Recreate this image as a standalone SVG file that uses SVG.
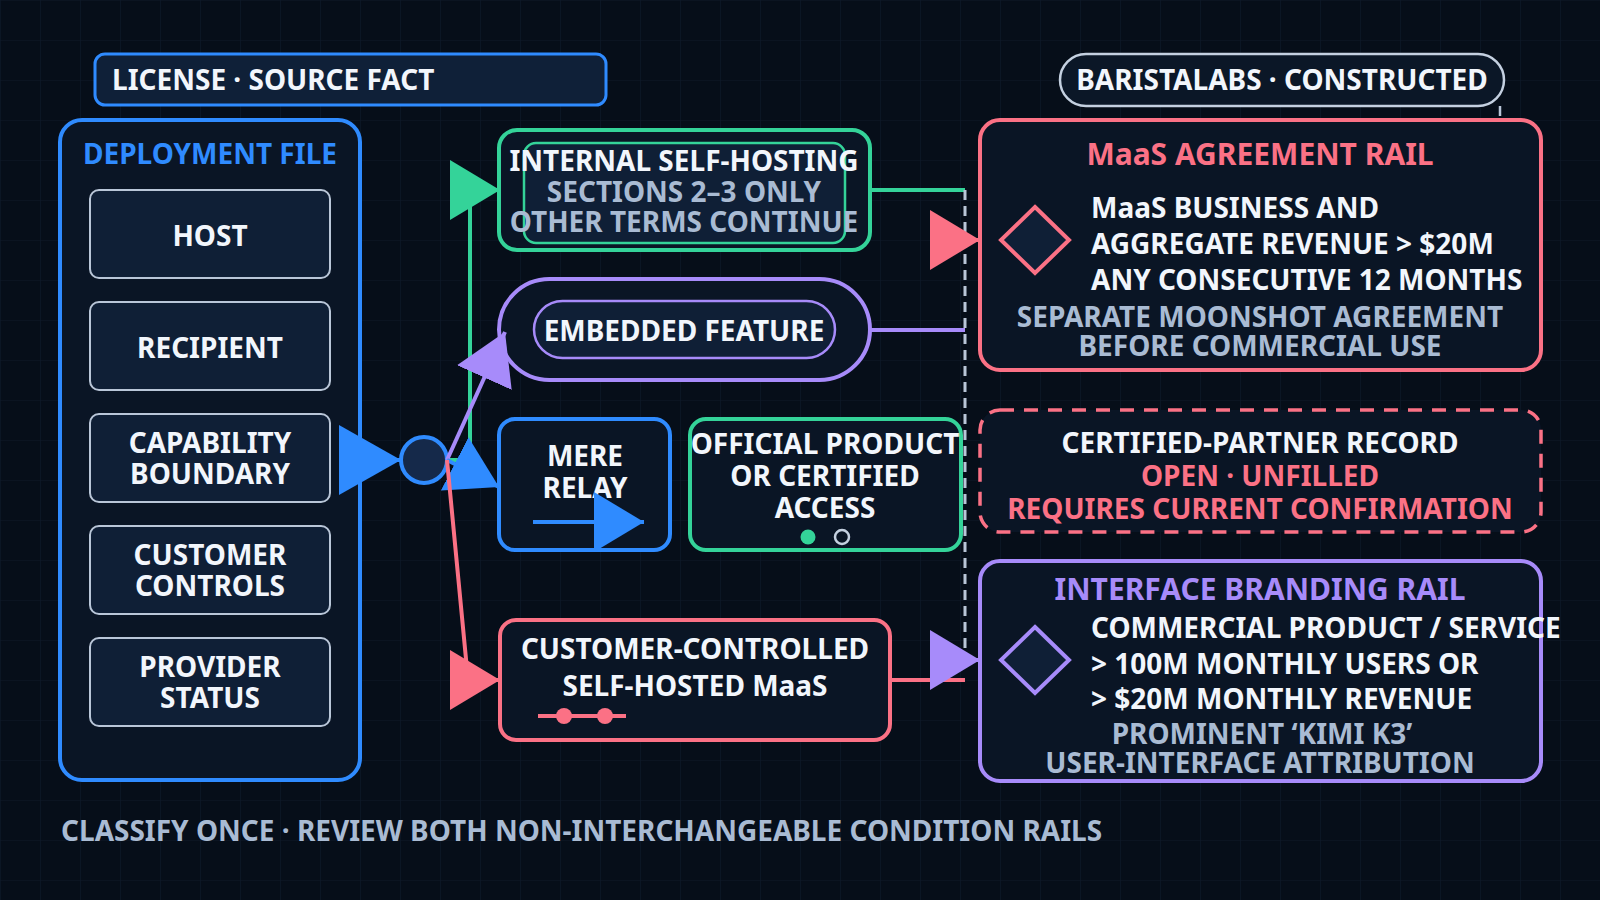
<svg xmlns="http://www.w3.org/2000/svg" width="1600" height="900" viewBox="0 0 1600 900">
<defs>
<pattern id="grid" width="40" height="40" patternUnits="userSpaceOnUse"><path d="M40 0H0V40" fill="none" stroke="#0f1a2a" stroke-width="1.2"/></pattern>
<marker id="ah-blue-lg" viewBox="0 0 62 70" refX="62" refY="35" markerWidth="62" markerHeight="70" markerUnits="userSpaceOnUse" orient="auto"><path d="M0,0L62,35L0,70z" fill="#2f8bff"/></marker>
<marker id="ah-blue" viewBox="0 0 50 60" refX="50" refY="30" markerWidth="50" markerHeight="60" markerUnits="userSpaceOnUse" orient="auto"><path d="M0,0L50,30L0,60z" fill="#2f8bff"/></marker>
<marker id="ah-green" viewBox="0 0 50 60" refX="50" refY="30" markerWidth="50" markerHeight="60" markerUnits="userSpaceOnUse" orient="auto"><path d="M0,0L50,30L0,60z" fill="#34d399"/></marker>
<marker id="ah-purple" viewBox="0 0 50 60" refX="50" refY="30" markerWidth="50" markerHeight="60" markerUnits="userSpaceOnUse" orient="auto"><path d="M0,0L50,30L0,60z" fill="#a78bfa"/></marker>
<marker id="ah-pink" viewBox="0 0 50 60" refX="50" refY="30" markerWidth="50" markerHeight="60" markerUnits="userSpaceOnUse" orient="auto"><path d="M0,0L50,30L0,60z" fill="#fb7185"/></marker>
</defs>
<style>
.t{font-family:"Noto Sans","Open Sans","DejaVu Sans",sans-serif;font-weight:700;font-size:28px}
.h{font-size:30px}
.c{text-anchor:middle}
.w{fill:#f2f6fc}
.g{fill:#a9bbd3}
.bl{fill:#2f8bff}
.pk{fill:#fb7185}
.pu{fill:#a78bfa}
.item{fill:#0f1f36;stroke:#b9c6d8;stroke-width:2}
.node{fill:#0a1525}
.sb{stroke:#2f8bff;stroke-width:4}
.sg{stroke:#34d399;stroke-width:4}
.sp{stroke:#a78bfa;stroke-width:4}
.sk{stroke:#fb7185;stroke-width:4}
.edge{fill:none;stroke-width:4}
</style>
<rect width="1600" height="900" fill="#060e19"/>
<rect width="1600" height="900" fill="url(#grid)"/>

<g id="license-tag">
<rect x="95" y="54" width="511" height="51" rx="10" fill="#0f2038" stroke="#2f8bff" stroke-width="3"/>
<text class="t w" x="112" y="90">LICENSE · SOURCE FACT</text>
</g>
<g id="baristalabs-tag">
<rect x="1060" y="54" width="444" height="52" rx="26" fill="#0b1727" stroke="#c4d0e0" stroke-width="2.5"/>
<text class="t w c" x="1282" y="90">BARISTALABS · CONSTRUCTED</text>
</g>

<g id="deployment-file">
<rect x="60" y="120" width="300" height="660" rx="22" class="node" stroke="#2f8bff" stroke-width="4"/>
<text class="t c bl" x="210" y="164">DEPLOYMENT FILE</text>
<g id="item-host"><rect class="item" x="90" y="190" width="240" height="88" rx="9"/><text class="t w c" x="210" y="246">HOST</text></g>
<g id="item-recipient"><rect class="item" x="90" y="302" width="240" height="88" rx="9"/><text class="t w c" x="210" y="358">RECIPIENT</text></g>
<g id="item-capability"><rect class="item" x="90" y="414" width="240" height="88" rx="9"/><text class="t w c" x="210" y="453">CAPABILITY</text><text class="t w c" x="210" y="484">BOUNDARY</text></g>
<g id="item-customer"><rect class="item" x="90" y="526" width="240" height="88" rx="9"/><text class="t w c" x="210" y="565">CUSTOMER</text><text class="t w c" x="210" y="596">CONTROLS</text></g>
<g id="item-provider"><rect class="item" x="90" y="638" width="240" height="88" rx="9"/><text class="t w c" x="210" y="677">PROVIDER</text><text class="t w c" x="210" y="708">STATUS</text></g>
</g>

<g id="hub">
<circle cx="424" cy="460" r="23" fill="#15294a" stroke="#2f8bff" stroke-width="4"/>
</g>

<g id="internal-self-hosting">
<rect x="499" y="130" width="371" height="120" rx="18" class="node sg"/>
<rect x="524" y="143" width="321" height="100" rx="12" fill="#0f1f36" stroke="#34d399" stroke-width="2.5"/>
<text class="t w c" x="684" y="171">INTERNAL SELF-HOSTING</text>
<text class="t g c" x="684" y="202">SECTIONS 2–3 ONLY</text>
<text class="t g c" x="684" y="232">OTHER TERMS CONTINUE</text>
</g>

<g id="embedded-feature">
<rect x="499" y="279" width="371" height="101" rx="50.5" class="node sp"/>
<rect x="534" y="301" width="301" height="57" rx="28.5" fill="#0f1f36" stroke="#a78bfa" stroke-width="2.5"/>
<text class="t w c" x="684" y="341">EMBEDDED FEATURE</text>
</g>

<g id="mere-relay">
<rect x="499" y="419" width="171" height="131" rx="16" class="node sb"/>
<text class="t w c" x="585" y="466">MERE</text>
<text class="t w c" x="585" y="498">RELAY</text>
<path d="M533,522L644,522" class="edge" stroke="#2f8bff" marker-end="url(#ah-blue)"/>
</g>

<g id="official-product">
<rect x="690" y="419" width="271" height="131" rx="16" class="node sg"/>
<text class="t w c" x="825" y="454">OFFICIAL PRODUCT</text>
<text class="t w c" x="825" y="486">OR CERTIFIED</text>
<text class="t w c" x="825" y="518">ACCESS</text>
<circle cx="808" cy="537" r="7.5" fill="#34d399"/>
<circle cx="842" cy="537" r="7" fill="none" stroke="#c4d0e0" stroke-width="2.5"/>
</g>

<g id="customer-controlled">
<rect x="500" y="620" width="390" height="120" rx="16" class="node sk"/>
<text class="t w c" x="695" y="659">CUSTOMER-CONTROLLED</text>
<text class="t w c" x="695" y="696">SELF-HOSTED MaaS</text>
<path d="M538,716H626" stroke="#fb7185" stroke-width="4"/>
<circle cx="564" cy="716" r="8" fill="#fb7185"/>
<circle cx="605" cy="716" r="8" fill="#fb7185"/>
</g>

<g id="maas-rail">
<rect x="980" y="120" width="561" height="250" rx="20" class="node sk"/>
<text class="t h c pk" x="1260" y="165">MaaS AGREEMENT RAIL</text>
<path d="M1035,207L1069,240L1035,273L1001,240z" fill="#0f1f36" stroke="#fb7185" stroke-width="4"/>
<text class="t w" x="1091" y="218">MaaS BUSINESS AND</text>
<text class="t w" x="1091" y="254">AGGREGATE REVENUE &gt; $20M</text>
<text class="t w" x="1091" y="290">ANY CONSECUTIVE 12 MONTHS</text>
<text class="t g c" x="1260" y="327">SEPARATE MOONSHOT AGREEMENT</text>
<text class="t g c" x="1260" y="356">BEFORE COMMERCIAL USE</text>
</g>

<g id="certified-partner">
<rect x="980" y="410" width="561" height="122" rx="20" fill="#0a1525" stroke="#fb7185" stroke-width="3.5" stroke-dasharray="14 10"/>
<text class="t w c" x="1260" y="453">CERTIFIED-PARTNER RECORD</text>
<text class="t c pk" x="1260" y="486">OPEN · UNFILLED</text>
<text class="t c pk" x="1260" y="519">REQUIRES CURRENT CONFIRMATION</text>
</g>

<g id="branding-rail">
<rect x="980" y="561" width="561" height="220" rx="20" class="node sp"/>
<text class="t h c pu" x="1260" y="600">INTERFACE BRANDING RAIL</text>
<path d="M1035,627L1069,660L1035,693L1001,660z" fill="#0f1f36" stroke="#a78bfa" stroke-width="4"/>
<text class="t w" x="1091" y="638">COMMERCIAL PRODUCT / SERVICE</text>
<text class="t w" x="1091" y="674">&gt; 100M MONTHLY USERS OR</text>
<text class="t w" x="1091" y="709">&gt; $20M MONTHLY REVENUE</text>
<text class="t g c" x="1262" y="744">PROMINENT ‘KIMI K3’</text>
<text class="t g c" x="1260" y="773">USER-INTERFACE ATTRIBUTION</text>
</g>

<g id="connectors">
<path d="M360,460L401,460" class="edge" stroke="#2f8bff" stroke-width="5" marker-end="url(#ah-blue-lg)"/>
<path d="M447,460L470,460L470,190L500,190" class="edge" stroke="#34d399" marker-end="url(#ah-green)"/>
<path d="M447,460L505,332" class="edge" stroke="#a78bfa" marker-end="url(#ah-purple)"/>
<path d="M447,460L499,487" class="edge" stroke="#2f8bff" marker-end="url(#ah-blue)"/>
<path d="M447,460L468,680L500,680" class="edge" stroke="#fb7185" marker-end="url(#ah-pink)"/>
<path d="M870,190H965" class="edge" stroke="#34d399"/>
<path d="M870,330H965" class="edge" stroke="#a78bfa"/>
<path d="M890,680H965" class="edge" stroke="#fb7185"/>
<path d="M965,190V665" fill="none" stroke="#b9c6d8" stroke-width="3" stroke-dasharray="10 6"/>
<path d="M965,240H980" class="edge" stroke="#fb7185" marker-end="url(#ah-pink)"/>
<path d="M965,660H980" class="edge" stroke="#a78bfa" marker-end="url(#ah-purple)"/>
<path d="M1500,106V116" fill="none" stroke="#b9c6d8" stroke-width="2.5"/>
</g>

<text class="t g" x="61" y="841">CLASSIFY ONCE · REVIEW BOTH NON-INTERCHANGEABLE CONDITION RAILS</text>
</svg>
